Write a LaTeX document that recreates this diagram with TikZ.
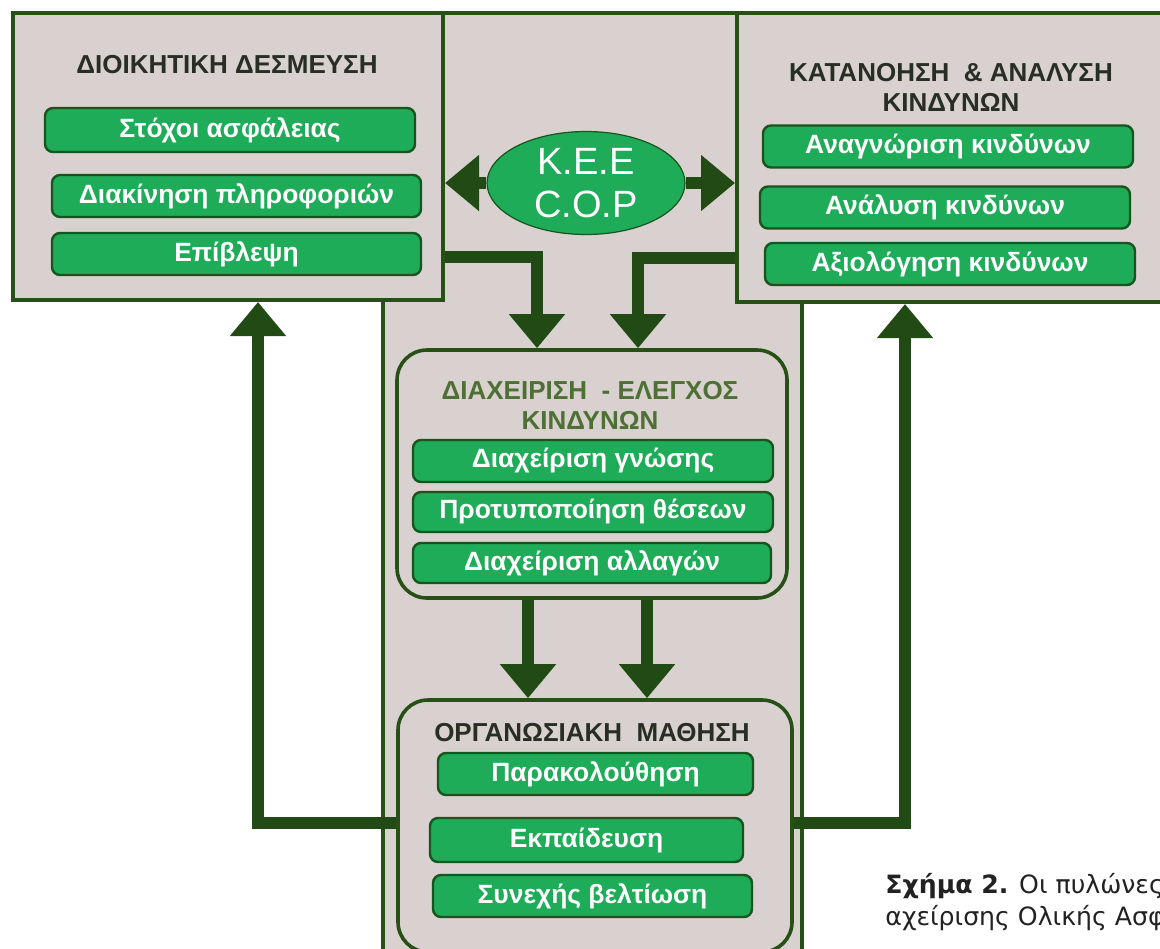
\documentclass[tikz,border=0pt]{standalone}
\usepackage{fontspec}
\setmainfont{Liberation Sans}
\newfontfamily\capfont{DejaVu Sans}
\usetikzlibrary{arrows.meta,positioning,fit,shapes.geometric}

\definecolor{panelgrey}{RGB}{216,209,207}
\definecolor{framegreen}{RGB}{38,80,22}
\definecolor{arrowgreen}{RGB}{34,74,20}
\definecolor{itemgreen}{RGB}{30,172,88}
\definecolor{itemedge}{RGB}{24,84,30}
\definecolor{titlegrey}{RGB}{40,46,36}
\definecolor{titleolive}{RGB}{78,112,52}
\definecolor{captiongrey}{RGB}{34,34,34}

\begin{document}
\begin{tikzpicture}[
  x=0.5pt, y=-0.5pt,
  panel/.style={draw=framegreen, line width=2pt, fill=panelgrey, inner sep=0pt},
  column/.style={draw=framegreen, line width=1.6pt, fill=panelgrey, inner sep=0pt},
  stage/.style={draw=framegreen, line width=1.8pt, fill=panelgrey, rounded corners=15pt, inner sep=0pt},
  item/.style={draw=itemedge, line width=1.2pt, fill=itemgreen, rounded corners=4pt, text=white,
    font=\bfseries\fontsize{13.2}{15}\selectfont, minimum height=21pt, inner sep=0pt},
  heading/.style={align=center, font=\bfseries\fontsize{13}{15}\selectfont, text=titlegrey, inner sep=0pt},
  flow/.style={draw=arrowgreen, line width=6pt, -{Triangle[width=27pt, length=17pt]}},
  caption/.style={font=\capfont\fontsize{12.6}{16}\selectfont, text=captiongrey, anchor=base west, inner sep=0pt}
]
\useasboundingbox (0,0) rectangle (1160,948);
\clip (0,0) rectangle (1160,948);

% frames
\node[column, fit={(383,13) (802,980)}] (col) {};
\node[panel, fit={(13,13) (443,300)}] (lbox) {};
\node[panel, fit={(737,13) (1180,302)}] (rbox) {};
\node[stage, fit={(397,350) (787,598)}] (mid) {};
\node[stage, fit={(398,700) (792,952)}] (org) {};

% left pillar
\node[heading] (ltitle) at (227,65) {ΔΙΟΙΚΗΤΙΚΗ ΔΕΣΜΕΥΣΗ};
\node[item, minimum width=185pt, minimum height=22pt] (l1) at (230,130) {Στόχοι ασφάλειας};
\node[item, minimum width=184.5pt] (l2) at (236.5,196) {Διακίνηση πληροφοριών};
\node[item, minimum width=184.5pt] (l3) at (236.5,254) {Επίβλεψη};

% right pillar
\node[heading] (rtitle) at (951,87) {ΚΑΤΑΝΟΗΣΗ \ \& ΑΝΑΛΥΣΗ\\ΚΙΝΔΥΝΩΝ};
\node[item, minimum width=185pt] (r1) at (948,146.5) {Αναγνώριση κινδύνων};
\node[item, minimum width=185pt] (r2) at (945,207.5) {Ανάλυση κινδύνων};
\node[item, minimum width=185pt] (r3) at (950,264) {Αξιολόγηση κινδύνων};

% risk management
\node[heading, text=titleolive] (mtitle) at (590,405) {ΔΙΑΧΕΙΡΙΣΗ \ - ΕΛΕΓΧΟΣ\\ΚΙΝΔΥΝΩΝ};
\node[item, minimum width=180pt] (m1) at (593,461) {Διαχείριση γνώσης};
\node[item, minimum width=180pt, minimum height=20pt] (m2) at (593,512) {Προτυποποίηση θέσεων};
\node[item, minimum width=179pt, minimum height=20pt] (m3) at (592,563) {Διαχείριση αλλαγών};

% organisational learning
\node[heading] (otitle) at (592,733) {ΟΡΓΑΝΩΣΙΑΚΗ \ ΜΑΘΗΣΗ};
\node[item, minimum width=157.5pt] (o1) at (595.5,774) {Παρακολούθηση};
\node[item, minimum width=156.5pt, minimum height=22pt] (o2) at (586.5,840) {Εκπαίδευση};
\node[item, minimum width=159.5pt] (o3) at (592.5,896) {Συνεχής βελτίωση};

% community of practice
\node[ellipse, draw=itemedge, line width=0.6pt, fill=itemgreen, minimum width=99pt, minimum height=51.5pt,
  inner sep=0pt, text=white, align=center, font=\fontsize{19}{21.5}\selectfont] (kee) at (586,183) {Κ.Ε.Ε\\C.O.P};

% connectors
\draw[flow] (kee) -- (kee -| lbox.east);
\draw[flow] (kee) -- (kee -| rbox.west);
\draw[flow] (lbox.east |- 0,257) -| (mid.north -| 537,0);
\draw[flow] (rbox.west |- 0,258) -| (mid.north -| 638,0);
\draw[flow] (mid.south -| 528,0) -- (org.north -| 528,0);
\draw[flow] (mid.south -| 647,0) -- (org.north -| 647,0);
\draw[flow] (org.west |- 0,823) -| (lbox.south -| 258,0);
\draw[flow] (org.east |- 0,823) -| (rbox.south -| 905,0);

% caption
\node[caption] (cap1) at (885,893) {\textbf{Σχήμα 2.} Οι πυλώνες};
\node[caption] (cap2) at (885,925) {αχείρισης Ολικής Ασφ};
\end{tikzpicture}
\end{document}
